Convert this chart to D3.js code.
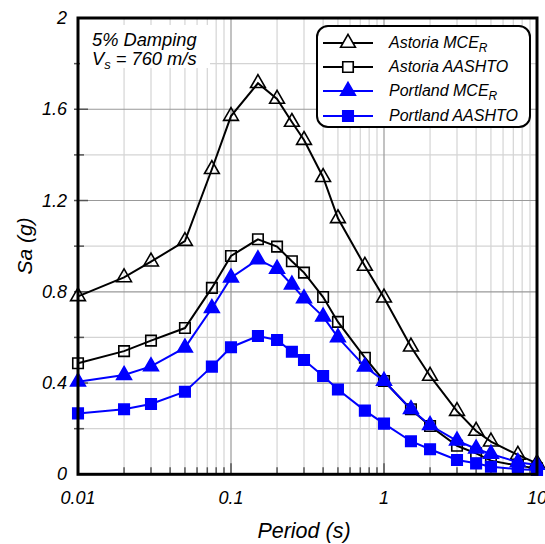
<!DOCTYPE html>
<html>
<head>
<meta charset="utf-8">
<script src="https://cdn.jsdelivr.net/npm/d3@7"></script>
<style>
  body { margin: 0; background: #fff; }
  svg { display: block; font-family: "Liberation Sans", Arial, sans-serif; font-style: italic; }
</style>
</head>
<body>
<div id="chart"></div>
<script>
// data
const periods = [0.01, 0.02, 0.03, 0.05, 0.075, 0.1, 0.15, 0.2, 0.25, 0.3, 0.4, 0.5, 0.75, 1, 1.5, 2, 3, 4, 5, 7.5, 10]
const astoriaMCE = [0.78, 0.863, 0.932, 1.022, 1.337, 1.57, 1.714, 1.645, 1.544, 1.465, 1.302, 1.122, 0.913, 0.774, 0.559, 0.431, 0.277, 0.19, 0.143, 0.085, 0.048]
const astoriaAASHTO = [0.487, 0.54, 0.586, 0.641, 0.817, 0.957, 1.03, 0.998, 0.934, 0.884, 0.777, 0.668, 0.511, 0.409, 0.285, 0.212, 0.125, 0.092, 0.06, 0.038, 0.026]
const portlandMCE = [0.406, 0.435, 0.473, 0.555, 0.728, 0.862, 0.942, 0.9, 0.831, 0.771, 0.691, 0.6, 0.472, 0.409, 0.285, 0.215, 0.147, 0.112, 0.089, 0.053, 0.041]
const portlandAASHTO = [0.267, 0.285, 0.308, 0.362, 0.472, 0.557, 0.606, 0.589, 0.537, 0.501, 0.431, 0.372, 0.279, 0.222, 0.145, 0.11, 0.063, 0.048, 0.033, 0.022, 0.019]

const seriesNames = [`Astoria MCE`, `Astoria AASHTO`, `Portland MCE`, `Portland AASHTO`]
const xTickLabels = [0.01, 0.1, 1, 10]
const yTickLabels = [0, 0.4, 0.8, 1.2, 1.6, 2]


const width = 545, height = 544
const x0 = 78, x1 = 537, y0 = 474.3, y1 = 18

const x = d3.scaleLog().domain([0.01, 10]).range([x0, x1])
const y = d3.scaleLinear().domain([0, 2]).range([y0, y1])

const svg = d3.select(`#chart`).append(`svg`)
  .attr(`width`, width)
  .attr(`height`, height)

// minor log ticks (2..9 within each decade)
const minorX = x.ticks().filter(t => xTickLabels.indexOf(t) < 0)
const minorY = d3.range(0.2, 2, 0.4)
const majorY = d3.range(0.4, 2, 0.4)

// grid
const grid = svg.append(`g`)
grid.selectAll(`.gxm`).data(minorX).join(`line`)
  .attr(`x1`, d => x(d)).attr(`x2`, d => x(d))
  .attr(`y1`, y0).attr(`y2`, y1)
  .attr(`stroke`, `#d4d4d4`).attr(`stroke-width`, 1.2)
grid.selectAll(`.gym`).data(minorY).join(`line`)
  .attr(`x1`, x0).attr(`x2`, x1)
  .attr(`y1`, d => y(d)).attr(`y2`, d => y(d))
  .attr(`stroke`, `#d4d4d4`).attr(`stroke-width`, 1.2)
grid.selectAll(`.gxM`).data(xTickLabels.slice(1, 3)).join(`line`)
  .attr(`x1`, d => x(d)).attr(`x2`, d => x(d))
  .attr(`y1`, y0).attr(`y2`, y1)
  .attr(`stroke`, `#999`).attr(`stroke-width`, 1.2)
grid.selectAll(`.gyM`).data(majorY).join(`line`)
  .attr(`x1`, x0).attr(`x2`, x1)
  .attr(`y1`, d => y(d)).attr(`y2`, d => y(d))
  .attr(`stroke`, `#999`).attr(`stroke-width`, 1.2)

// inward tick marks
const ticks = svg.append(`g`).attr(`stroke`, `#555`).attr(`stroke-width`, 1.5)
ticks.selectAll(`.tx`).data(x.ticks()).join(`line`)
  .attr(`x1`, d => x(d)).attr(`x2`, d => x(d))
  .attr(`y1`, y0).attr(`y2`, d => y0 - (xTickLabels.indexOf(d) >= 0 ? 11 : 7))
ticks.selectAll(`.ty`).data(minorY.concat(majorY)).join(`line`)
  .attr(`x1`, x0 - 4).attr(`x2`, d => x0 + (majorY.indexOf(d) >= 0 ? 10 : 6))
  .attr(`y1`, d => y(d)).attr(`y2`, d => y(d))

// annotation box
svg.append(`rect`).attr(`x`, x0 + 2).attr(`y`, 25).attr(`width`, 130).attr(`height`, 43).attr(`fill`, `#fff`)
svg.append(`text`).attr(`x`, 92).attr(`y`, 46).attr(`font-size`, 18.3).text(`5% Damping`)
const vs = svg.append(`text`).attr(`x`, 92).attr(`y`, 65).attr(`font-size`, 18.3)
vs.append(`tspan`).text(`V`)
vs.append(`tspan`).attr(`dy`, 4).attr(`font-size`, 13).text(`s`)
vs.append(`tspan`).attr(`dy`, -4).text(` = 760 m/s`)

// series
const series = [
  { name: seriesNames[0], values: astoriaMCE, color: `#000`, shape: d3.symbolTriangle, fill: `none`, size: 95 },
  { name: seriesNames[1], values: astoriaAASHTO, color: `#000`, shape: d3.symbolSquare, fill: `none`, size: 110 },
  { name: seriesNames[2], values: portlandMCE, color: `#0000ff`, shape: d3.symbolTriangle, fill: `#0000ff`, size: 95 },
  { name: seriesNames[3], values: portlandAASHTO, color: `#0000ff`, shape: d3.symbolSquare, fill: `#0000ff`, size: 110 }
]

const line = d3.line().x(d => x(d[0])).y(d => y(d[1]))

series.forEach(s => {
  const pts = periods.map((p, i) => [p, s.values[i]])
  svg.append(`path`)
    .attr(`d`, line(pts))
    .attr(`fill`, `none`)
    .attr(`stroke`, s.color)
    .attr(`stroke-width`, 2)
  svg.append(`g`).selectAll(`path`).data(pts).join(`path`)
    .attr(`d`, d3.symbol().type(s.shape).size(s.size))
    .attr(`transform`, d => `translate(${x(d[0])},${y(d[1])})`)
    .attr(`fill`, s.fill === `none` ? `none` : s.fill)
    .attr(`stroke`, s.color)
    .attr(`stroke-width`, 1.6)
})

// frame
svg.append(`rect`)
  .attr(`x`, x0).attr(`y`, y1)
  .attr(`width`, x1 - x0).attr(`height`, y0 - y1)
  .attr(`fill`, `none`).attr(`stroke`, `#000`).attr(`stroke-width`, 3)

// legend
const legend = svg.append(`g`)
legend.append(`rect`)
  .attr(`x`, 317).attr(`y`, 26).attr(`width`, 213).attr(`height`, 101).attr(`rx`, 11)
  .attr(`fill`, `#fff`).attr(`stroke`, `#000`).attr(`stroke-width`, 2)
const rowY = [43, 67, 91, 116]
series.forEach((s, i) => {
  const g = legend.append(`g`).attr(`transform`, `translate(0,${rowY[i]})`)
  g.append(`line`).attr(`x1`, 323).attr(`x2`, 373).attr(`stroke`, s.color).attr(`stroke-width`, 2)
  g.append(`path`).attr(`d`, d3.symbol().type(s.shape).size(s.size))
    .attr(`transform`, `translate(348,0)`)
    .attr(`fill`, s.fill === `none` ? `#fff` : s.fill)
    .attr(`stroke`, s.color).attr(`stroke-width`, 1.6)
  const t = g.append(`text`).attr(`x`, 389).attr(`y`, 5).attr(`font-size`, 16)
  t.append(`tspan`).text(s.name)
  if (s.name.endsWith(`MCE`)) t.append(`tspan`).attr(`dy`, 4).attr(`font-size`, 12).text(`R`)
})

// tick labels
svg.append(`g`).selectAll(`text`).data(yTickLabels).join(`text`)
  .attr(`x`, 67).attr(`y`, d => y(d) + 6)
  .attr(`text-anchor`, `end`).attr(`font-size`, 18)
  .text(d => d)
svg.append(`g`).selectAll(`text`).data(xTickLabels).join(`text`)
  .attr(`x`, d => x(d)).attr(`y`, 504)
  .attr(`text-anchor`, `middle`).attr(`font-size`, 18)
  .text(d => d)

// axis titles
svg.append(`text`).attr(`x`, 304).attr(`y`, 538).attr(`text-anchor`, `middle`).attr(`font-size`, 21.5).text(`Period (s)`)
svg.append(`text`).attr(`transform`, `translate(32,246) rotate(-90)`).attr(`text-anchor`, `middle`).attr(`font-size`, 21).text(`Sa (g)`)
</script>
</body>
</html>
